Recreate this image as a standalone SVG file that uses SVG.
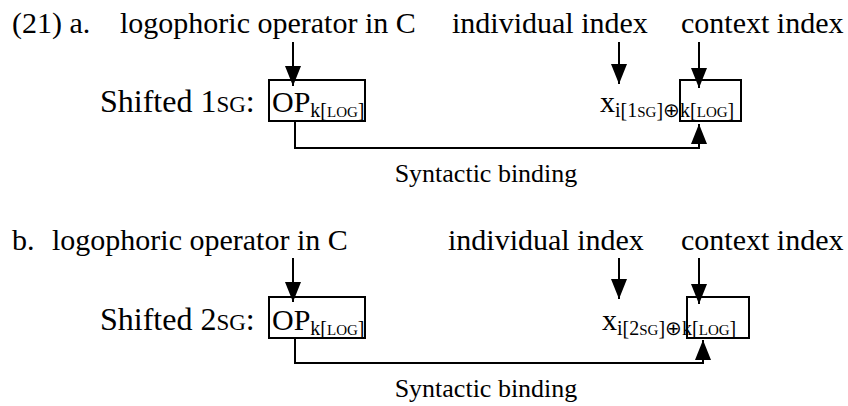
<svg xmlns="http://www.w3.org/2000/svg" width="848" height="406" viewBox="0 0 848 406">
<style>
text{font-family:"Liberation Serif","Times New Roman",serif;fill:#000}
.t{font-size:30px}
.sh{font-size:32px}
.s{font-size:20px}
.sc{font-size:15px}
.ssc{font-size:23px}
.lb{font-size:26px}
.ln{stroke:#000;stroke-width:2;fill:none}
.bx{stroke:#000;stroke-width:2;fill:none}
</style>
<defs>
<marker id="ah" viewBox="0 0 20 16" refX="20" refY="8" markerWidth="20" markerHeight="16" markerUnits="userSpaceOnUse" orient="auto">
<path d="M0,0 L20,8 L0,16 Z" fill="#000"/>
</marker>
</defs>
<g id="row-a-labels">
<text class="t" x="12" y="33">(21) a.</text>
<text class="t" x="120" y="33">logophoric operator in C</text>
<text class="t" x="452" y="33">individual index</text>
<text class="t" x="681" y="33">context index</text>
</g>
<g id="row-a-op">
<text class="sh" x="100" y="112">Shifted 1<tspan class="ssc">SG</tspan>:</text>
<rect class="bx" x="269" y="80" width="96" height="41"/>
<text class="t" x="272" y="112">OP<tspan class="s" dy="5">k[</tspan><tspan class="sc">LOG</tspan><tspan class="s">]</tspan></text>
</g>
<g id="row-a-var">
<text class="t" x="600" y="112">x<tspan class="s" dy="5">i[1</tspan><tspan class="sc">SG</tspan><tspan class="s">]⊕k[</tspan><tspan class="sc">LOG</tspan><tspan class="s">]</tspan></text>
<rect class="bx" x="680" y="80" width="61" height="41"/>
</g>
<g id="row-a-bind">
<text class="lb" x="486" y="182" text-anchor="middle">Syntactic binding</text>
</g>
<g id="row-b-labels">
<text class="t" x="12" y="250">b.</text>
<text class="t" x="52" y="250">logophoric operator in C</text>
<text class="t" x="448" y="250">individual index</text>
<text class="t" x="681" y="250">context index</text>
</g>
<g id="row-b-op">
<text class="sh" x="100" y="330">Shifted 2<tspan class="ssc">SG</tspan>:</text>
<rect class="bx" x="269" y="297" width="96" height="41"/>
<text class="t" x="272" y="330">OP<tspan class="s" dy="5">k[</tspan><tspan class="sc">LOG</tspan><tspan class="s">]</tspan></text>
</g>
<g id="row-b-var">
<text class="t" x="602" y="330">x<tspan class="s" dy="5">i[2</tspan><tspan class="sc">SG</tspan><tspan class="s">]⊕k[</tspan><tspan class="sc">LOG</tspan><tspan class="s">]</tspan></text>
<rect class="bx" x="687" y="297" width="62" height="41"/>
</g>
<g id="row-b-bind">
<text class="lb" x="486" y="397" text-anchor="middle">Syntactic binding</text>
</g>
<g id="connectors">
<line class="ln" x1="293" y1="42" x2="293" y2="86" marker-end="url(#ah)"/>
<line class="ln" x1="619" y1="42" x2="619" y2="84" marker-end="url(#ah)"/>
<line class="ln" x1="699" y1="42" x2="699" y2="88" marker-end="url(#ah)"/>
<polyline class="ln" points="295,121 295,148 699,148 699,124" marker-end="url(#ah)"/>
<line class="ln" x1="293" y1="258" x2="293" y2="302" marker-end="url(#ah)"/>
<line class="ln" x1="619" y1="258" x2="619" y2="299" marker-end="url(#ah)"/>
<line class="ln" x1="699" y1="258" x2="699" y2="304" marker-end="url(#ah)"/>
<polyline class="ln" points="295,338 295,363 703,363 703,340" marker-end="url(#ah)"/>
</g>
</svg>
